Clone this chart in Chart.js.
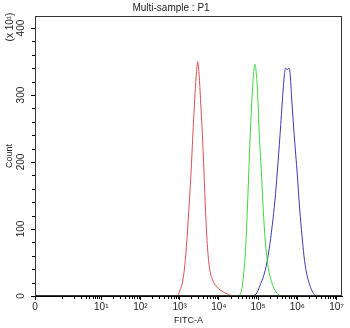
<!DOCTYPE html>
<html>
<head>
<meta charset="utf-8">
<script src="https://cdn.jsdelivr.net/npm/chart.js@4.4.0/dist/chart.umd.min.js"></script>
<style>
  html, body { margin: 0; padding: 0; background: #fff; }
  #wrap { width: 350px; height: 328px; }
</style>
</head>
<body>
<div id="wrap"><canvas id="c" width="350" height="328"></canvas></div>
<script>
// x = log10(FITC-A) in decades, y = count / 10
const redX = [2.90, 2.95, 3.01, 3.07, 3.12, 3.17, 3.23, 3.29, 3.34, 3.39, 3.43, 3.46, 3.49, 3.53, 3.58, 3.62, 3.66, 3.71, 3.76, 3.84, 3.94, 4.03, 4.15, 4.25, 4.33];
const redY = [0, 1, 9, 20, 40, 72, 125, 185, 245, 300, 335, 350, 335, 295, 240, 185, 125, 72, 42, 24, 14, 9, 5, 2, 0];

const greenX = [4.52, 4.56, 4.60, 4.64, 4.68, 4.72, 4.76, 4.80, 4.85, 4.89, 4.92, 4.95, 4.99, 5.03, 5.08, 5.13, 5.18, 5.22, 5.28, 5.36, 5.46, 5.56];
const greenY = [0, 5, 16, 38, 69, 120, 181, 241, 301, 335, 346, 335, 301, 241, 190, 130, 85, 60, 36, 18, 6, 0];

const blueX = [4.82, 4.95, 5.05, 5.18, 5.28, 5.36, 5.43, 5.49, 5.56, 5.63, 5.67, 5.70, 5.74, 5.79, 5.82, 5.85, 5.92, 6.00, 6.06, 6.12, 6.17, 6.23, 6.32, 6.40, 6.47];
const blueY = [0, 3, 16, 38, 69, 105, 143, 185, 241, 301, 330, 340, 338, 340, 330, 301, 241, 181, 130, 90, 60, 36, 16, 5, 0];

const xTickValues = [-0.69, 1, 2, 3, 4, 5, 6, 7];
const xTickLabels = ['0', '10¹', '10²', '10³', '10⁴', '10⁵', '10⁶', '10⁷'];
const yTickValues = [0, 100, 200, 300, 400];
const yMinorStep = 20;

const toPoints = (xs, ys) => xs.map((v, i) => ({ x: v, y: ys[i] }));
const FONT = 'Liberation Sans, Arial, sans-serif';

const extras = {
  id: 'extras',
  afterDraw(chart) {
    const { ctx, chartArea: a, scales: { x, y } } = chart;
    ctx.save();
    ctx.strokeStyle = '#000';
    ctx.lineWidth = 1;
    ctx.beginPath();
    // minor log ticks
    for (let d = 0; d < 7; d++) {
      for (let m = 1; m < 10; m++) {
        if (d > 0 && m === 1) continue;
        const px = Math.round(x.getPixelForValue(d + Math.log10(m))) + 0.5;
        ctx.moveTo(px, a.bottom);
        ctx.lineTo(px, a.bottom + 3);
      }
    }
    for (let v = yMinorStep; v <= y.max; v += yMinorStep) {
      if (v % 100 === 0) continue;
      const py = Math.round(y.getPixelForValue(v)) + 0.5;
      ctx.moveTo(a.left, py);
      ctx.lineTo(a.left - 3, py);
    }
    ctx.stroke();
    // plot box
    ctx.strokeStyle = '#333';
    ctx.strokeRect(Math.round(a.left) + 0.5, Math.round(a.top) + 0.5,
      Math.round(a.width) - 1, Math.round(a.height) - 1);
    // y multiplier
    ctx.translate(10, 27);
    ctx.rotate(-Math.PI / 2);
    ctx.fillStyle = '#222';
    ctx.font = '10px ' + FONT;
    ctx.textAlign = 'center';
    ctx.textBaseline = 'middle';
    ctx.fillText('(x 10¹)', 0, 0);
    ctx.restore();
  }
};

new Chart(document.getElementById('c'), {
  type: 'line',
  data: {
    datasets: [
      { data: toPoints(redX, redY), borderColor: '#dc4f52' },
      { data: toPoints(greenX, greenY), borderColor: '#3fd63f' },
      { data: toPoints(blueX, blueY), borderColor: '#3a3aae' }
    ]
  },
  options: {
    responsive: false,
    animation: false,
    devicePixelRatio: 1,
    layout: { padding: { left: 0, right: 8, top: 0, bottom: 0 } },
    elements: {
      point: { radius: 0 },
      line: { borderWidth: 1, cubicInterpolationMode: 'monotone', fill: false }
    },
    plugins: {
      legend: { display: false },
      tooltip: { enabled: false },
      title: {
        display: true,
        text: 'Multi-sample : P1',
        color: '#222',
        font: { family: FONT, size: 10, weight: 'normal', lineHeight: 1.2 },
        padding: { top: 2, bottom: 2 }
      }
    },
    scales: {
      x: {
        type: 'linear',
        min: -0.69,
        max: 7.14,
        afterBuildTicks: s => { s.ticks = xTickValues.map(v => ({ value: v })); },
        afterFit: s => { s.height = 32; s.paddingLeft = 0; s.paddingRight = 0; },
        grid: { display: true, drawOnChartArea: false, drawTicks: true, tickLength: 4, color: '#000' },
        border: { display: true, color: '#000' },
        ticks: {
          autoSkip: false,
          maxRotation: 0,
          padding: 1,
          color: '#222',
          font: { family: FONT, size: 10 },
          callback: (v, i) => xTickLabels[i]
        },
        title: {
          display: true,
          text: 'FITC-A',
          color: '#222',
          font: { family: FONT, size: 9 },
          padding: { top: 0, bottom: 2 }
        }
      },
      y: {
        min: 0,
        max: 418,
        afterBuildTicks: s => { s.ticks = yTickValues.map(v => ({ value: v })); },
        afterFit: s => { s.width = 35; s.paddingTop = 0; s.paddingBottom = 0; },
        grid: { display: true, drawOnChartArea: false, drawTicks: true, tickLength: 4, color: '#000' },
        border: { display: true, color: '#000' },
        ticks: {
          minRotation: 90,
          maxRotation: 90,
          crossAlign: 'center',
          padding: 1,
          color: '#222',
          font: { family: FONT, size: 10 }
        },
        title: {
          display: true,
          text: 'Count',
          color: '#222',
          font: { family: FONT, size: 9 },
          padding: { top: 4, bottom: 0 }
        }
      }
    }
  },
  plugins: [extras]
});
</script>
</body>
</html>
